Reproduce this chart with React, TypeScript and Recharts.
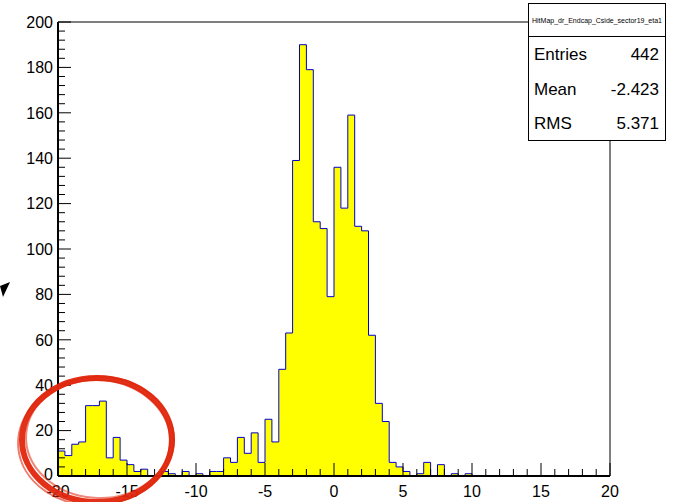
import React from 'react'
import { AreaChart, Area, XAxis, YAxis, ReferenceLine } from 'recharts'

// histogram: 80 bins of width 0.5 from -20 to 20
const binStart = -20
const binWidth = 0.5
const counts = [
  11, 9, 14, 15, 31, 31, 33, 8, 17, 7,
  5, 2, 3, 0, 0, 2, 1, 0, 2, 0,
  1, 0, 2, 2, 8, 6, 17, 10, 19, 6,
  25, 15, 47, 63, 139, 190, 179, 112, 109, 79,
  136, 118, 159, 110, 108, 62, 32, 24, 6, 4,
  2, 0, 1, 6, 0, 5, 0, 1, 0, 1,
  0, 0, 0, 0, 0, 0, 0, 0, 0, 0,
  0, 0, 0, 0, 0, 0, 0, 0, 0, 0,
]

const xTicks = [-20, -19, -18, -17, -16, -15, -14, -13, -12, -11, -10, -9, -8, -7, -6, -5, -4, -3, -2, -1,
  0, 1, 2, 3, 4, 5, 6, 7, 8, 9, 10, 11, 12, 13, 14, 15, 16, 17, 18, 19, 20]
const yTicks = [0, 4, 8, 12, 16, 20, 24, 28, 32, 36, 40, 44, 48, 52, 56, 60, 64, 68, 72, 76, 80, 84, 88, 92, 96,
  100, 104, 108, 112, 116, 120, 124, 128, 132, 136, 140, 144, 148, 152, 156, 160, 164, 168, 172, 176, 180,
  184, 188, 192, 196, 200]

const title = 'HitMap_dr_Endcap_Cside_sector19_eta1'
const statNames = ['Entries', 'Mean', 'RMS']
const statValues = ['442', '-2.423', '5.371']

const FONT = '"Liberation Sans", Arial, Helvetica, sans-serif'

const data = counts.map((c, i) => ({ x: binStart + i * binWidth, n: c }))
data.push({ x: binStart + counts.length * binWidth, n: counts[counts.length - 1] })

function XTick({ x, y, payload }: any) {
  const v = payload.value
  const major = v % 5 === 0
  return (
    <g>
      <line x1={x} x2={x} y1={y} y2={y - (major ? 13 : 7)} stroke="#000" strokeWidth={1} />
      {major && (
        <text x={x} y={y + 21} textAnchor="middle" fontSize={16} fontFamily={FONT} fill="#000">{v}</text>
      )}
    </g>
  )
}

function YTick({ x, y, payload }: any) {
  const v = payload.value
  const major = v % 20 === 0
  return (
    <g>
      <line x1={x} x2={x + (major ? 13 : 7)} y1={y} y2={y} stroke="#000" strokeWidth={1} />
      {major && (
        <text x={x - 5} y={v === 0 ? y - 2 : y} dy="0.36em" textAnchor="end" fontSize={16} fontFamily={FONT} fill="#000">{v}</text>
      )}
    </g>
  )
}

export default function App() {
  return (
    <div style={{ position: 'absolute', left: 0, top: 0, width: 676, height: 502, background: '#fff', overflow: 'hidden' }}>
      <AreaChart width={676} height={502} data={data} margin={{ top: 22, right: 66, bottom: 0, left: 0 }}>
        <Area type="stepAfter" dataKey="n" stroke="#0000cc" strokeWidth={1} fill="#ffff00" fillOpacity={1}
          isAnimationActive={false} dot={false} activeDot={false} />
        <ReferenceLine y={200} stroke="#000" strokeWidth={1} />
        <ReferenceLine x={20} stroke="#000" strokeWidth={1} />
        <XAxis dataKey="x" type="number" domain={[-20, 20]} ticks={xTicks} interval={0} height={26}
          tickSize={0} tickMargin={0} tick={<XTick />} axisLine={{ stroke: '#000', strokeWidth: 2 }} tickLine={false} />
        <YAxis type="number" domain={[0, 200]} ticks={yTicks} interval={0} width={58}
          tickSize={0} tickMargin={0} tick={<YTick />} axisLine={{ stroke: '#000', strokeWidth: 2 }} tickLine={false} />
      </AreaChart>

      <svg width={676} height={502} style={{ position: 'absolute', left: 0, top: 0, pointerEvents: 'none' }}>
        {/* stats box */}
        <rect x={528.5} y={3.5} width={137} height={33} fill="#fff" stroke="#000" strokeWidth={1} />
        <text x={597} y={23} textAnchor="middle" fontSize={7} fontFamily={FONT} fill="#000">{title}</text>
        <rect x={528.5} y={36.5} width={137} height={104} fill="#fff" stroke="#000" strokeWidth={1} />
        {statNames.map((s, i) => (
          <g key={s}>
            <text x={534} y={60 + i * 34.5} fontSize={17} fontFamily={FONT} fill="#000">{s}</text>
            <text x={659} y={60 + i * 34.5} textAnchor="end" fontSize={17} fontFamily={FONT} fill="#000">{statValues[i]}</text>
          </g>
        ))}
        {/* stray arrow head */}
        <polygon points="0,286 10,282 3,297" fill="#000" />
        {/* hand-drawn red circle */}
        <g fill="none" stroke="#e0260c" strokeLinecap="round">
          <ellipse cx={97} cy={440} rx={75} ry={62} strokeWidth={6} opacity={0.95} />
          <ellipse cx={96} cy={441} rx={78} ry={64} strokeWidth={2} opacity={0.6} transform="rotate(-5 96 441)" />
          <ellipse cx={98} cy={439} rx={72} ry={59} strokeWidth={2} opacity={0.55} transform="rotate(4 98 439)" />
        </g>
      </svg>
    </div>
  )
}
